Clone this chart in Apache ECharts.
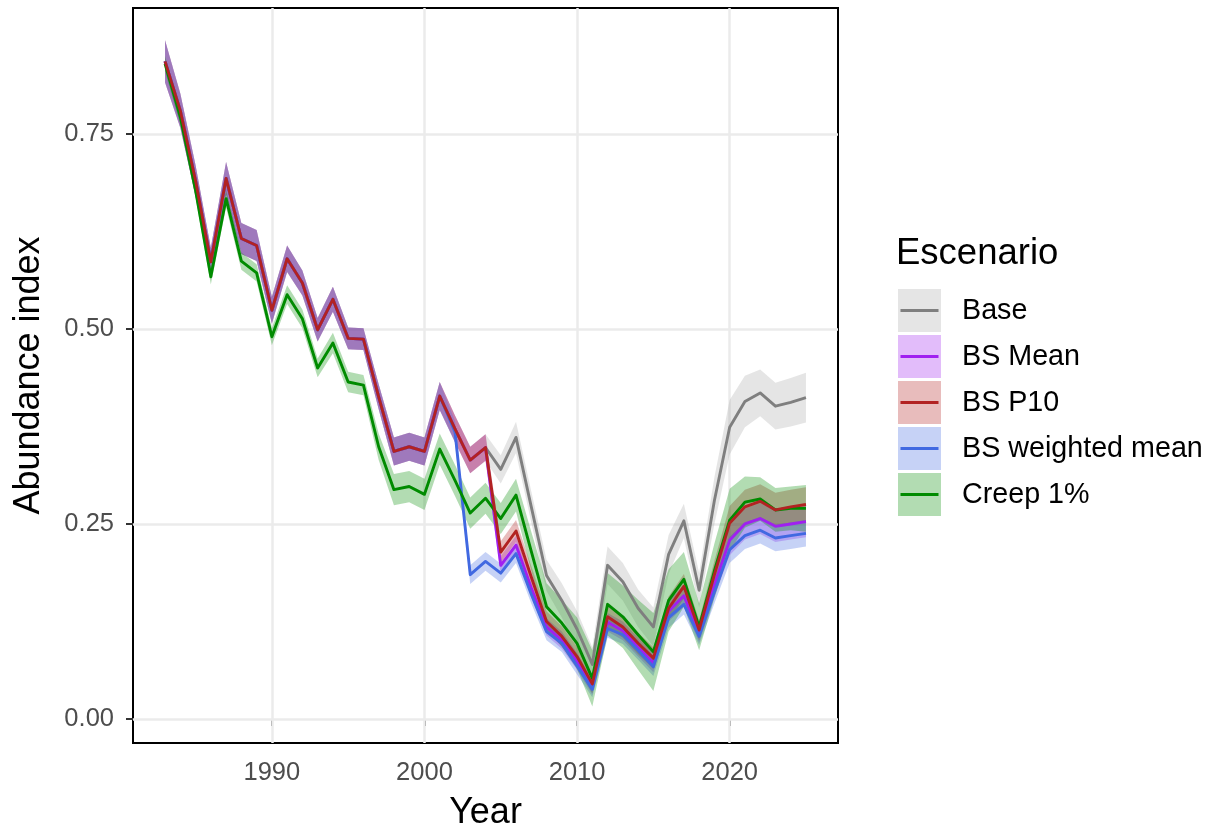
<!DOCTYPE html>
<html><head><meta charset="utf-8">
<script src="https://cdn.jsdelivr.net/npm/echarts@6/dist/echarts.min.js"></script>
<style>html,body{margin:0;padding:0;background:#fff}#c{width:1215px;height:831px}</style>
</head><body><div id="c"></div>
<script>
const years = [1983,1984,1985,1986,1987,1988,1989,1990,1991,1992,1993,1994,1995,1996,1997,1998,1999,2000,2001,2002,2003,2004,2005,2006,2007,2008,2009,2010,2011,2012,2013,2014,2015,2016,2017,2018,2019,2020,2021,2022,2023,2024,2025];
const scenarios = ['Base','BS Mean','BS P10','BS weighted mean','Creep 1%'];

const baseValues = [0.843,0.780,0.690,0.586,0.693,0.616,0.607,0.524,0.590,0.559,0.499,0.538,0.488,0.487,0.413,0.343,0.349,0.343,0.414,0.372,0.332,0.348,0.320,0.361,0.272,0.184,0.152,0.115,0.070,0.197,0.176,0.142,0.118,0.211,0.254,0.165,0.280,0.374,0.407,0.418,0.401,0.406,0.412];
const bsMeanValues = [0.843,0.780,0.690,0.586,0.693,0.616,0.607,0.524,0.590,0.559,0.499,0.538,0.488,0.487,0.413,0.343,0.349,0.343,0.414,0.372,0.332,0.348,0.197,0.223,0.168,0.118,0.101,0.074,0.041,0.124,0.113,0.092,0.072,0.138,0.158,0.110,0.172,0.229,0.250,0.257,0.247,0.250,0.253];
const bsP10Values = [0.843,0.780,0.690,0.586,0.693,0.616,0.607,0.524,0.590,0.559,0.499,0.538,0.488,0.487,0.413,0.343,0.349,0.343,0.414,0.372,0.332,0.348,0.214,0.241,0.182,0.125,0.106,0.080,0.045,0.131,0.118,0.097,0.078,0.142,0.170,0.114,0.185,0.251,0.272,0.279,0.268,0.272,0.275];
const bsWeightedValues = [0.843,0.780,0.690,0.586,0.693,0.616,0.607,0.524,0.590,0.559,0.499,0.538,0.488,0.487,0.413,0.343,0.349,0.343,0.414,0.368,0.185,0.202,0.187,0.212,0.160,0.112,0.097,0.068,0.038,0.116,0.108,0.088,0.067,0.130,0.147,0.106,0.163,0.217,0.235,0.242,0.232,0.235,0.238];
const creepValues = [0.840,0.772,0.678,0.567,0.667,0.587,0.572,0.490,0.544,0.513,0.450,0.482,0.432,0.428,0.349,0.294,0.298,0.288,0.346,0.306,0.264,0.283,0.257,0.287,0.215,0.144,0.123,0.097,0.052,0.147,0.131,0.108,0.086,0.152,0.179,0.118,0.190,0.255,0.278,0.282,0.268,0.270,0.270];

// half-widths of the confidence ribbons
const baseHalf = [0.027,0.022,0.020,0.018,0.021,0.020,0.020,0.017,0.017,0.016,0.015,0.016,0.014,0.014,0.016,0.018,0.018,0.018,0.018,0.017,0.017,0.017,0.018,0.020,0.020,0.020,0.022,0.023,0.022,0.024,0.024,0.024,0.025,0.025,0.022,0.022,0.030,0.035,0.033,0.030,0.030,0.031,0.032];
const bsMeanHalf = [0.027,0.022,0.020,0.018,0.021,0.020,0.020,0.017,0.017,0.016,0.015,0.016,0.014,0.014,0.016,0.018,0.018,0.018,0.018,0.017,0.017,0.017,0.012,0.012,0.012,0.011,0.011,0.011,0.010,0.012,0.012,0.012,0.012,0.013,0.014,0.012,0.016,0.019,0.020,0.020,0.020,0.020,0.020];
const bsP10Half = [0.027,0.022,0.020,0.018,0.021,0.020,0.020,0.017,0.017,0.016,0.015,0.016,0.014,0.014,0.016,0.018,0.018,0.018,0.018,0.017,0.017,0.017,0.014,0.014,0.014,0.013,0.013,0.013,0.012,0.014,0.014,0.014,0.014,0.015,0.016,0.013,0.018,0.022,0.022,0.022,0.022,0.022,0.022];
const bsWeightedHalf = [0.027,0.022,0.020,0.018,0.021,0.020,0.020,0.017,0.017,0.016,0.015,0.016,0.014,0.014,0.016,0.018,0.018,0.018,0.018,0.014,0.012,0.012,0.012,0.012,0.012,0.011,0.011,0.011,0.010,0.012,0.012,0.012,0.012,0.013,0.013,0.011,0.015,0.017,0.017,0.017,0.017,0.017,0.017];
const creepHalf = [0.010,0.010,0.010,0.010,0.011,0.011,0.011,0.011,0.012,0.012,0.012,0.013,0.013,0.013,0.017,0.020,0.020,0.020,0.020,0.020,0.020,0.020,0.020,0.021,0.025,0.030,0.030,0.033,0.036,0.040,0.040,0.045,0.050,0.040,0.035,0.030,0.035,0.040,0.033,0.028,0.028,0.028,0.030];

const xTicks = [1990, 2000, 2010, 2020];
const xTickLabels = ['1990', '2000', '2010', '2020'];
const yTicks = [0, 0.25, 0.5, 0.75];
const yTickLabels = ['0.00', '0.25', '0.50', '0.75'];

const FONT = '"Liberation Sans", Arial, Helvetica, sans-serif';
const lineColors = ['#7f7f7f', '#a020f0', '#b22222', '#4169e1', '#008b00'];
const fillColors = ['rgba(127,127,127,0.2)', 'rgba(160,32,240,0.3)', 'rgba(178,34,34,0.3)', 'rgba(65,105,225,0.3)', 'rgba(0,139,0,0.3)'];
const allValues = [baseValues, bsMeanValues, bsP10Values, bsWeightedValues, creepValues];
const allHalf = [baseHalf, bsMeanHalf, bsP10Half, bsWeightedHalf, creepHalf];
const lineZ = [3, 4, 7, 5, 6];
const LW = 2.9;

const chart = echarts.init(document.getElementById('c'), null, {renderer: 'canvas'});

function ribbonSeries(i) {
  return {
    type: 'custom', name: scenarios[i] + ' band', coordinateSystem: 'cartesian2d',
    data: [[years[0], allValues[i][0]]], z: 2, silent: true, animation: false,
    renderItem: function (params, api) {
      const m = allValues[i], h = allHalf[i];
      const up = [], dn = [];
      for (let k = 0; k < years.length; k++) {
        up.push(api.coord([years[k], m[k] + h[k]]));
        dn.push(api.coord([years[k], m[k] - h[k]]));
      }
      return { type: 'polygon', shape: { points: up.concat(dn.reverse()) }, style: { fill: fillColors[i], lineWidth: 0 } };
    }
  };
}
function lineSeries(i) {
  return {
    type: 'line', name: scenarios[i], data: years.map((y, k) => [y, allValues[i][k]]),
    showSymbol: false, symbol: 'none', z: lineZ[i], silent: true, animation: false,
    lineStyle: { color: lineColors[i], width: LW, join: 'round' }
  };
}

const gridSeries = {
  type: 'line', data: [], silent: true, z: 1,
  markLine: {
    silent: true, symbol: ['none', 'none'], z: 1, animation: false,
    label: { show: false },
    lineStyle: { color: '#ebebeb', width: 2.5, type: 'solid' },
    data: xTicks.map(v => ({ xAxis: v })).concat(yTicks.map(v => ({ yAxis: v })))
  }
};

const series = [gridSeries];
for (let i = 0; i < 5; i++) series.push(ribbonSeries(i));
for (let i = 0; i < 5; i++) series.push(lineSeries(i));

const graphic = [{
  type: 'text', x: 896, y: 254, silent: true,
  style: { text: 'Escenario', font: '36.5px ' + FONT, fill: '#000', verticalAlign: 'middle', align: 'left' }
}];
for (let i = 0; i < 5; i++) {
  const y0 = 289 + 46 * i;
  graphic.push({ type: 'rect', shape: { x: 898, y: y0, width: 43, height: 43 }, style: { fill: fillColors[i] }, silent: true });
  graphic.push({ type: 'line', shape: { x1: 900.5, y1: y0 + 21.5, x2: 938.5, y2: y0 + 21.5 }, style: { stroke: lineColors[i], lineWidth: LW }, silent: true });
  graphic.push({ type: 'text', x: 962, y: y0 + 22, silent: true,
    style: { text: scenarios[i], font: '28.7px ' + FONT, fill: '#000', verticalAlign: 'middle', align: 'left' } });
}

chart.setOption({
  animation: false,
  backgroundColor: '#ffffff',
  grid: { left: 133, right: 377, top: 8, bottom: 88, show: true, borderColor: '#000', borderWidth: 2, backgroundColor: 'transparent', containLabel: false, outerBoundsMode: 'none' },
  xAxis: {
    type: 'value', min: 1980.9, max: 2027.1,
    axisLine: { show: false }, splitLine: { show: false },
    axisTick: { show: true, length: 7, inside: false, lineStyle: { color: '#333', width: 2 }, customValues: xTicks },
    axisLabel: { customValues: xTicks, formatter: v => xTickLabels[xTicks.indexOf(v)], fontSize: 25.5, color: '#4d4d4d', fontFamily: FONT, margin: 17 },
    name: 'Year', nameLocation: 'middle', nameGap: 52,
    nameTextStyle: { fontSize: 36, color: '#000', fontFamily: FONT }
  },
  yAxis: {
    type: 'value', min: -0.0308, max: 0.9115,
    axisLine: { show: false }, splitLine: { show: false },
    axisTick: { show: true, length: 7, inside: false, lineStyle: { color: '#333', width: 2 }, customValues: yTicks },
    axisLabel: { customValues: yTicks, formatter: v => yTickLabels[yTicks.indexOf(v)], fontSize: 25.5, color: '#4d4d4d', fontFamily: FONT, margin: 19 },
    name: 'Abundance index', nameLocation: 'middle', nameGap: 86, nameRotate: 90,
    nameTextStyle: { fontSize: 36, color: '#000', fontFamily: FONT }
  },
  graphic: graphic,
  series: series
});
</script></body></html>
